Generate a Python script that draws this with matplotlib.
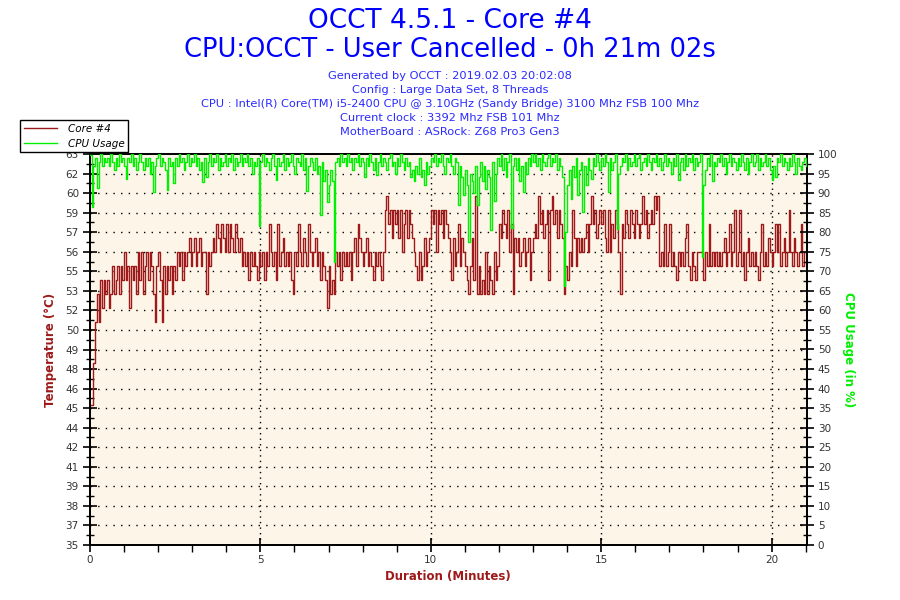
import matplotlib
matplotlib.use("Agg")
import matplotlib.pyplot as plt
import numpy as np

# sampling step of the hand-read series (minutes)
step_min = 0.05
duration_min = 21.03

# Core #4 temperature (deg C), every 0.05 min
core_temp = [
    45, 45, 48, 51, 53, 51, 54, 52, 54, 53,
    54, 52, 53, 55, 53, 54, 55, 53, 55, 54,
    56, 54, 55, 52, 55, 54, 55, 53, 56, 54,
    56, 53, 55, 56, 54, 56, 55, 53, 51, 55,
    56, 54, 51, 55, 53, 55, 54, 55, 53, 55,
    54, 56, 55, 56, 54, 56, 55, 56, 57, 55,
    56, 57, 55, 56, 57, 55, 56, 56, 53, 56,
    55, 56, 57, 56, 58, 57, 56, 58, 57, 56,
    58, 56, 58, 57, 56, 58, 57, 56, 57, 55,
    56, 55, 56, 54, 56, 55, 56, 55, 54, 56,
    55, 56, 54, 56, 55, 58, 56, 55, 56, 54,
    58, 55, 56, 57, 55, 56, 55, 56, 54, 53,
    56, 55, 58, 56, 55, 57, 56, 55, 58, 56,
    55, 56, 57, 55, 56, 54, 56, 55, 54, 52,
    55, 53, 54, 53, 56, 55, 56, 54, 56, 55,
    56, 55, 56, 54, 56, 57, 55, 58, 57, 56,
    55, 56, 57, 55, 56, 55, 54, 56, 55, 56,
    55, 54, 56, 59, 60, 58, 59, 57, 59, 58,
    59, 57, 59, 56, 58, 59, 57, 59, 58, 57,
    56, 55, 54, 56, 54, 55, 57, 55, 56, 57,
    59, 58, 59, 56, 59, 58, 59, 57, 59, 58,
    57, 56, 54, 57, 55, 56, 58, 55, 57, 56,
    55, 54, 53, 55, 57, 54, 60, 53, 55, 53,
    54, 53, 56, 53, 55, 54, 53, 56, 54, 55,
    58, 57, 59, 58, 57, 59, 56, 58, 53, 57,
    56, 57, 55, 56, 57, 55, 56, 57, 54, 56,
    57, 58, 57, 60, 58, 59, 57, 58, 59, 54,
    59, 60, 58, 59, 57, 59, 58, 57, 53, 55,
    54, 56, 55, 59, 57, 55, 57, 56, 57, 56,
    57, 58, 56, 58, 60, 58, 59, 57, 58, 59,
    58, 59, 57, 56, 59, 56, 58, 57, 59, 58,
    56, 53, 58, 57, 59, 58, 57, 59, 58, 57,
    59, 58, 57, 58, 60, 58, 59, 57, 58, 59,
    58, 60, 59, 60, 55, 56, 55, 58, 55, 56,
    58, 55, 56, 55, 54, 56, 55, 56, 55, 57,
    58, 55, 54, 56, 55, 54, 56, 56, 56, 56,
    54, 56, 55, 58, 55, 56, 55, 56, 55, 56,
    55, 56, 57, 55, 56, 58, 55, 56, 59, 55,
    56, 59, 55, 56, 54, 56, 57, 55, 56, 55,
    56, 55, 54, 56, 58, 55, 56, 55, 57, 56,
    55, 56, 58, 56, 58, 55, 56, 57, 55, 56,
    59, 56, 55, 57, 56, 55, 56, 58, 55, 56,
    56,
]

# CPU usage (%), same sampling
cpu_usage = [
    99.7, 86.5, 97, 99, 91.2, 98, 100, 97, 99, 98,
    99, 97, 100, 98, 96, 99, 97, 100, 98, 99,
    97, 93.7, 99, 98, 100, 97, 99, 96, 98, 100,
    98, 96, 99, 97, 99, 95, 98, 90.3, 97, 99,
    100, 97, 99, 98, 96, 90.7, 99, 97, 98, 92.5,
    99, 97, 100, 98, 99, 96, 98, 100, 97, 99,
    98, 100, 97, 99, 96, 98, 92.9, 99, 94, 98,
    100, 97, 99, 98, 100, 96, 99, 97, 98, 100,
    97, 99, 98, 100, 96, 99, 97, 98, 100, 97,
    99, 98, 100, 97, 99, 95, 98, 97, 99, 81.6,
    98, 100, 97, 99, 98, 96, 99, 100, 97, 93.3,
    99, 97, 98, 100, 96, 99, 97, 98, 100, 97,
    95, 99, 98, 97, 100, 96, 99, 90.5, 97, 99,
    98, 96, 99, 95, 97, 84.3, 98, 93, 96, 87.7,
    92, 96, 93, 72.3, 98, 99, 97, 100, 98, 99,
    97, 100, 98, 99, 96, 99, 98, 100, 97, 99,
    98, 94, 99, 97, 100, 98, 96, 99, 94.6, 98,
    100, 97, 99, 98, 96, 99, 100, 97, 98, 95,
    99, 97, 100, 98, 96, 99, 97, 98, 94, 96,
    93, 97, 95, 99, 94, 96, 92, 98, 95, 97,
    99, 98, 100, 97, 99, 98, 100, 97, 95, 99,
    98, 100, 97, 95, 99, 98, 86.9, 97, 94, 89.5,
    96, 92, 77.5, 95, 93, 90, 97, 87, 94, 98,
    93, 97, 91, 96, 94, 80.5, 98, 88, 95, 99,
    97, 100, 96, 99, 94, 98, 100, 81, 97, 99,
    96, 99, 93, 97, 90.3, 98, 95, 99, 97, 100,
    98, 100, 97, 99, 96, 100, 98, 97, 99, 100,
    97, 99, 98, 100, 96, 99, 97, 94, 66.3, 80,
    92, 96, 88.6, 97, 94, 99, 89.5, 96, 98, 85.2,
    97, 92, 99, 96, 93.7, 99, 97, 100, 98, 96,
    99, 97, 100, 98, 90.3, 99, 96, 98, 100, 80.9,
    95, 97, 99, 98, 100, 96, 99, 97, 98, 100,
    97, 99, 100, 96, 98, 99, 97, 100, 98, 96,
    99, 98, 100, 97, 99, 96, 98, 100, 97, 99,
    98, 95, 99, 97, 100, 93.3, 98, 99, 96, 100,
    97, 99, 98, 100, 96, 99, 97, 98, 100, 73.6,
    92, 96, 99, 97, 100, 93, 98, 97, 99, 98,
    100, 97, 99, 95, 98, 100, 97, 99, 98, 96,
    99, 97, 100, 98, 96, 99, 95, 98, 100, 97,
    98, 100, 96, 99, 97, 98, 100, 97, 99, 96,
    93.3, 97, 94, 99, 98, 100, 97, 99, 98, 96,
    99, 97, 100, 98, 95, 99, 97, 96, 98, 99,
    97,
]

# left axis labels as printed by OCCT (one per 5 % of the right axis)
temp_tick_labels = ["35", "37", "38", "39", "41", "42", "44", "45", "46", "48", "49",
                    "50", "52", "53", "55", "56", "57", "59", "60", "62", "63"]
temp_min, temp_max = 35, 63
x_major = [0, 5, 10, 15, 20]

title_lines = ["OCCT 4.5.1 - Core #4", "CPU:OCCT - User Cancelled - 0h 21m 02s"]
info_lines = [
    "Generated by OCCT : 2019.02.03 20:02:08",
    "Config : Large Data Set, 8 Threads",
    "CPU : Intel(R) Core(TM) i5-2400 CPU @ 3.10GHz (Sandy Bridge) 3100 Mhz FSB 100 Mhz",
    "Current clock : 3392 Mhz FSB 101 Mhz",
    "MotherBoard : ASRock: Z68 Pro3 Gen3",
]

red = "#9e1a1a"
green = "#00f000"
blue = "#0000ff"
cream = "#fdf6e8"
tick_col = "#333333"

t = np.arange(len(core_temp)) * step_min

fig = plt.figure(figsize=(9, 6), dpi=100)
ax = fig.add_axes([90 / 900, 55 / 600, 716.7 / 900, 391 / 600])
ax2 = ax.twinx()
ax.set_facecolor(cream)

ax.step(t, core_temp, where="post", color=red, lw=1.0, label="Core #4", zorder=3)
ax2.step(t, cpu_usage, where="post", color=green, lw=1.0, label="CPU Usage", zorder=4)

ax.set_xlim(0, duration_min)
ax.set_ylim(temp_min, temp_max)
ax2.set_ylim(0, 100)

# temperature ticks sit on the same 20 divisions as the usage axis
temp_ticks = np.linspace(temp_min, temp_max, 21)
ax.set_yticks(temp_ticks)
ax.set_yticklabels(temp_tick_labels)
ax.set_yticks(np.linspace(temp_min, temp_max, 41), minor=True)
ax2.set_yticks(np.arange(0, 101, 5))
ax2.set_yticks(np.arange(0, 101, 2.5), minor=True)
ax.set_xticks(x_major)
ax.set_xticks(np.arange(0, 22, 1), minor=True)

for a in (ax, ax2):
    a.tick_params(which="major", direction="inout", length=10, width=1.2,
                  labelsize=7.5, labelcolor=tick_col, color="black")
    a.tick_params(which="minor", direction="inout", length=6, width=1, color="black")
    for s in a.spines.values():
        s.set_color("black")
        s.set_linewidth(1.3)
ax.tick_params(axis="x", which="minor", direction="out", length=5)
ax.tick_params(axis="x", which="major", pad=2)
ax.tick_params(axis="y", pad=3)
ax2.tick_params(axis="y", pad=3)

# dotted grid
for y in temp_ticks[1:-1]:
    ax.axhline(y, color="black", lw=1, ls=(0, (1, 4.5)), zorder=1)
for x in x_major[1:]:
    ax.axvline(x, color="black", lw=1, ls=(0, (1, 3)), zorder=1)

ax.set_xlabel("Duration (Minutes)", color=red, fontsize=8.5, fontweight="bold", labelpad=4)
ax.set_ylabel("Temperature (°C)", color=red, fontsize=8.5, fontweight="bold", labelpad=6)
ax2.set_ylabel("CPU Usage (in %)", color=green, fontsize=8.5, fontweight="bold",
               rotation=-90, labelpad=13)

fig.text(0.5, 1 - 21 / 600, title_lines[0], color=blue, fontsize=19, ha="center", va="center")
fig.text(0.5, 1 - 50 / 600, title_lines[1], color=blue, fontsize=18.5, ha="center", va="center")
for i, line in enumerate(info_lines):
    fig.text(0.5, 1 - (76 + 14 * i) / 600, line, color="#2a2aff", fontsize=8.2,
             ha="center", va="center")

h1, l1 = ax.get_legend_handles_labels()
h2, l2 = ax2.get_legend_handles_labels()
leg = fig.legend(h1 + h2, l1 + l2, loc="upper left", bbox_to_anchor=(15 / 900, 1 - 115 / 600),
                 fancybox=False, edgecolor="black", framealpha=1,
                 prop={"style": "italic", "size": 7.5}, handlelength=3.2,
                 borderpad=0.35, labelspacing=0.45, handletextpad=1.0)
leg.get_frame().set_linewidth(1)

fig.savefig("out.png", dpi=100, facecolor="white")
